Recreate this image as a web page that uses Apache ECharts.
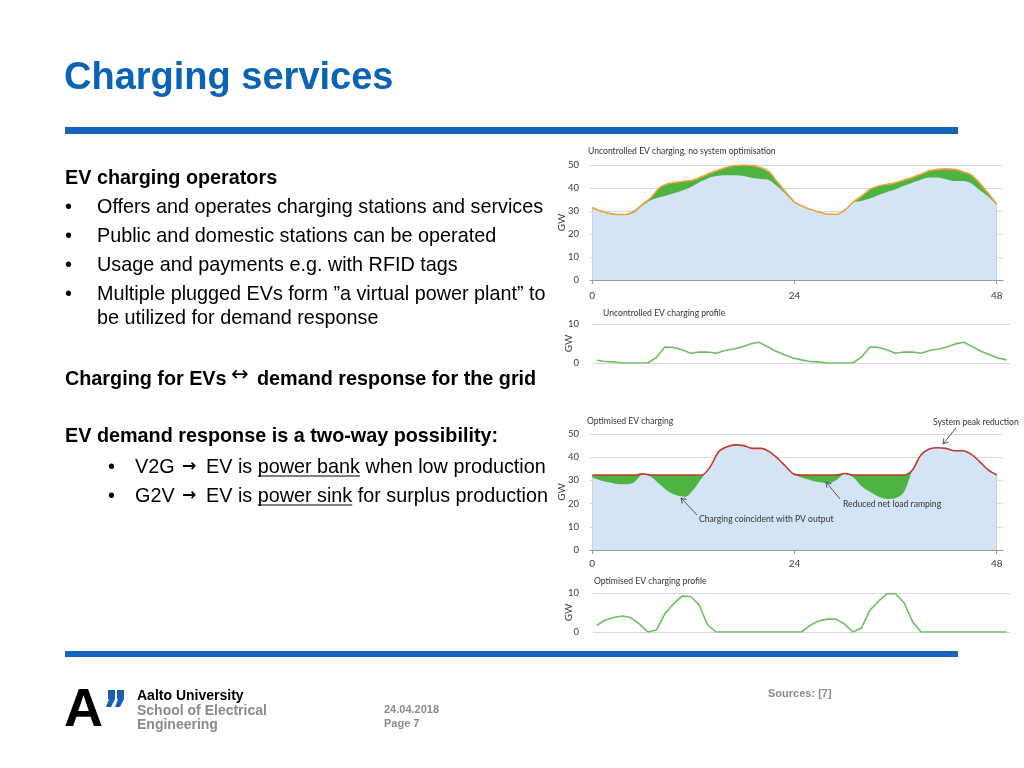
<!DOCTYPE html>
<html><head><meta charset="utf-8">
<script src="https://cdn.jsdelivr.net/npm/echarts@6/dist/echarts.min.js"></script>
<style>html,body{margin:0;padding:0;background:#fff}#c{width:1024px;height:768px}</style>
</head><body><div id="c"></div>
<script>
// ---------------- data (GW, hourly 0..48) ----------------
const hours = [0,1,2,3,4,5,6,7,8,9,10,11,12,13,14,15,16,17,18,19,20,21,22,23,24,25,26,27,28,29,30,31,32,33,34,35,36,37,38,39,40,41,42,43,44,45,46,47,48];
const xTicks = [0, 24, 48];

// Uncontrolled charging: base load (blue) and total load incl. EVs (orange line)
const baseUncontrolled = [31.2,29.8,28.8,28.3,28.3,29.5,32.5,34.8,36,37,38,39.3,41,43,44.6,45.3,45.5,45.5,45.2,44.3,43.9,43.4,40.6,37.3,33.6,31.8,30.5,29.4,28.6,28.6,30.4,33.8,34.4,35.5,37,38.3,39.5,41,42.3,43.6,44.6,44.6,43.8,43,43,42,39,36.3,32.7];
const totalUncontrolled = [31.5,30,29,28.5,28.5,30,33,36,40.2,41.8,42.5,43,43.5,45,46.5,47.8,49,49.8,50,49.8,48.8,47,42.5,38,34,32,30.5,29.5,28.6,28.6,30.5,34,36.6,39.5,40.9,41.6,42.3,43.5,44.6,46,47.5,48.1,48.3,48.1,47.1,45.7,42,37.7,33];
const evUncontrolled = [0.7,0.4,0.3,0,0,0,0,1.4,4.1,4,3.4,2.5,2.8,2.8,2.5,3.2,3.6,4.1,4.9,5.3,4.2,3.0,2.1,1.3,0.8,0.4,0.3,0,0,0,0,1.5,4.1,4.0,3.4,2.5,2.8,2.8,2.5,3.2,3.6,4.1,4.9,5.3,4.2,3.0,2.1,1.3,0.8];

// Optimised charging: net base load (blue) and total load incl. EVs (red line)
const baseOptimised = [31.2,30,29.2,28.4,28.3,29.3,32.6,31.5,28.3,25.3,23.6,23,26,31,35.9,42.4,44.5,45.3,45,43.8,43.8,42.4,39.5,35.9,32.4,31,30,29.2,28.7,30.2,32.9,31.3,27.4,25,23,22,22.3,25,34.5,41,43.5,44.1,43.8,42.8,42.8,41.2,38,34.5,32.3];
const totalOptimised = [32.3,32.3,32.3,32.3,32.3,32.3,32.8,32.3,32.3,32.3,32.3,32.3,32.3,32.3,35.9,42.4,44.5,45.3,45,43.8,43.8,42.4,39.5,35.9,32.6,32.3,32.3,32.3,32.3,32.3,33,32.3,32.3,32.3,32.3,32.3,32.3,32.3,34.5,41,43.5,44.1,43.8,42.8,42.8,41.2,38,34.5,32.3];
const evOptimised = [1.7,3.0,3.7,4.1,3.7,2.1,0,0.5,4.7,7.2,9.2,9.1,7.0,1.8,0,0,0,0,0,0,0,0,0,0,0,1.7,2.8,3.3,3.3,2.1,0,1.0,5.6,7.9,9.8,9.8,7.5,2.6,0,0,0,0,0,0,0,0,0,0,0];

// ---------------- styles ----------------
const SF = '"Liberation Sans", Arial, Helvetica, sans-serif';
const CF = 'Lato, "Open Sans", sans-serif';
const BLUE = '#0b63b6';
const C_BASE = '#d5e3f6';
const C_GREEN = '#4db441';
const C_ORANGE = '#f2a23a';
const C_RED = '#c4372c';
const C_PROF = '#6cc062';
const C_GRID = '#d9d9d9';
const C_AX = '#3a3a3a';
const BS = 19.8;

const pairs = (ys) => hours.map((h, i) => [h, ys[i]]);

const mctx = document.createElement('canvas').getContext('2d');
function tw(s, size, weight) { mctx.font = (weight || 'normal') + ' ' + size + 'px ' + SF; return mctx.measureText(s).width; }

function txt(x, y, text, size, o) {
  o = o || {};
  return { type: 'text', x: x, y: y, silent: true, z: 10,
    style: { text: text, fontSize: size, fontFamily: o.ff || SF, fontWeight: o.w || 'normal',
      fill: o.c || '#000', align: o.a || 'left', verticalAlign: 'middle' } };
}
function arrow(x1, y1, x2, y2) {
  const dx = x2 - x1, dy = y2 - y1, L = Math.sqrt(dx * dx + dy * dy);
  const ux = dx / L, uy = dy / L, hl = 5, hw = 3;
  const bx = x2 - ux * hl, by = y2 - uy * hl;
  return [
    { type: 'line', silent: true, z: 10, shape: { x1: x1, y1: y1, x2: x2, y2: y2 }, style: { stroke: '#555', lineWidth: 1 } },
    { type: 'polyline', silent: true, z: 10, shape: { points: [[bx - uy * hw, by + ux * hw], [x2, y2], [bx + uy * hw, by - ux * hw]] }, style: { stroke: '#555', lineWidth: 1, fill: null } }
  ];
}

// ---------------- slide graphics ----------------
const g = [];
g.push(txt(64, 79, 'Charging services', 38, { w: 'bold', c: BLUE }));
g.push({ type: 'rect', silent: true, shape: { x: 65, y: 127, width: 893, height: 7 }, style: { fill: '#1565bb' } });
g.push({ type: 'rect', silent: true, shape: { x: 65, y: 651, width: 893, height: 6 }, style: { fill: '#1565bb' } });

g.push(txt(65, 179, 'EV charging operators', BS, { w: 'bold' }));
const bul = [['Offers and operates charging stations and services', 208], ['Public and domestic stations can be operated', 237], ['Usage and payments e.g. with RFID tags', 266], ['Multiple plugged EVs form \u201da virtual power plant\u201d to', 295]];
bul.forEach(b => { g.push(txt(65, b[1], '\u2022', BS)); g.push(txt(97, b[1], b[0], BS)); });
g.push(txt(97, 319, 'be utilized for demand response', BS));

g.push(txt(65, 380, 'Charging for EVs', BS, { w: 'bold' }));
g.push(txt(231, 376, '\u2194', 21, { ff: '"DejaVu Sans", sans-serif' }));
g.push(txt(257, 380, 'demand response for the grid', BS, { w: 'bold' }));

g.push(txt(65, 437, 'EV demand response is a two-way possibility:', BS, { w: 'bold' }));
const sub = [['V2G', 'EV is ', 'power bank', ' when low production', 468], ['G2V', 'EV is ', 'power sink', ' for surplus production', 497]];
sub.forEach(s => {
  const y = s[4];
  g.push(txt(108, y, '\u2022', BS));
  g.push(txt(135, y, s[0], BS));
  g.push(txt(182, y - 1, '\u2192', 17, { w: 'bold', ff: '"DejaVu Sans", sans-serif' }));
  g.push(txt(206, y, s[1] + s[2] + s[3], BS));
  const x0 = 206 + tw(s[1], BS), x1 = x0 + tw(s[2], BS);
  g.push({ type: 'line', silent: true, shape: { x1: x0, y1: y + 8, x2: x1, y2: y + 8 }, style: { stroke: '#000', lineWidth: 1 } });
});

// chart titles and annotations
const TS = 8.6;
g.push(txt(588, 151, 'Uncontrolled EV charging, no system optimisation', TS, { ff: CF, c: '#333' }));
g.push(txt(603, 313, 'Uncontrolled EV charging profile', TS, { ff: CF, c: '#333' }));
g.push(txt(587, 421, 'Optimised EV charging', TS, { ff: CF, c: '#333' }));
g.push(txt(594, 581, 'Optimised EV charging profile', TS, { ff: CF, c: '#333' }));
g.push(txt(933, 422, 'System peak reduction', TS, { ff: CF, c: '#333' }));
g.push(txt(843, 504, 'Reduced net load ramping', TS, { ff: CF, c: '#333' }));
g.push(txt(699, 519, 'Charging coincident with PV output', TS, { ff: CF, c: '#333' }));
arrow(956, 428, 943, 444).forEach(e => g.push(e));
arrow(840, 499, 826, 482).forEach(e => g.push(e));
arrow(697, 515, 681, 498).forEach(e => g.push(e));

// footer
g.push(txt(64, 711, 'A', 54, { w: 'bold' }));
g.push({ type: 'polygon', silent: true, shape: { points: [[108, 690], [115, 690], [115, 699], [111, 707], [106, 707], [109, 699], [108, 699]] }, style: { fill: '#1a5fb4' } });
g.push({ type: 'polygon', silent: true, shape: { points: [[117, 690], [124, 690], [124, 699], [120, 707], [115, 707], [118, 699], [117, 699]] }, style: { fill: '#1a5fb4' } });
g.push(txt(137, 696, 'Aalto University', 14, { w: 'bold' }));
g.push(txt(137, 711, 'School of Electrical', 14, { w: 'bold', c: '#8a8a8a' }));
g.push(txt(137, 725, 'Engineering', 14, { w: 'bold', c: '#8a8a8a' }));
g.push(txt(384, 710, '24.04.2018', 11, { w: 'bold', c: '#8c8c8c' }));
g.push(txt(384, 724, 'Page 7', 11, { w: 'bold', c: '#8c8c8c' }));
g.push(txt(768, 694, 'Sources: [7]', 11, { w: 'bold', c: '#8c8c8c' }));

// ---------------- axes ----------------
const grids = [
  { left: 590, top: 165, width: 413, height: 115 },
  { left: 593, top: 324, width: 417, height: 39 },
  { left: 590, top: 434, width: 413, height: 116 },
  { left: 593, top: 593, width: 417, height: 39 }
];
function mainX(i, m) {
  return { type: 'value', gridIndex: i, min: -0.27, max: 48.75,
    axisLine: { show: true, lineStyle: { color: '#999', width: 1 } },
    axisTick: { show: true, customValues: xTicks, length: 4, lineStyle: { color: '#999' } },
    axisLabel: { customValues: xTicks, fontSize: 10, color: C_AX, fontFamily: CF, margin: m },
    splitLine: { show: false } };
}
function profX(i) { return { type: 'value', gridIndex: i, min: -0.42, max: 48.4, show: false }; }
function yAx(i, max, interval, gap, lm) {
  return { type: 'value', gridIndex: i, min: 0, max: max, interval: interval,
    name: 'GW', nameLocation: 'middle', nameRotate: 90, nameGap: gap, nameMoveOverlap: false,
    nameTextStyle: { fontSize: 10, color: C_AX, fontFamily: CF },
    axisLine: { show: false }, axisTick: { show: false },
    axisLabel: { fontSize: 9.5, color: C_AX, fontFamily: CF, margin: lm },
    splitLine: { show: true, lineStyle: { color: C_GRID, width: 1 } } };
}

function areaS(i, ys, color) {
  return { type: 'line', xAxisIndex: i, yAxisIndex: i, data: pairs(ys), smooth: 0.3, showSymbol: false, silent: true,
    lineStyle: { width: 0 }, areaStyle: { color: color, opacity: 1 } };
}
function lineS(i, ys, color, w, smooth) {
  return { type: 'line', xAxisIndex: i, yAxisIndex: i, data: pairs(ys), smooth: smooth, showSymbol: false, silent: true,
    lineStyle: { width: w, color: color } };
}

const option = {
  animation: false,
  backgroundColor: '#fff',
  grid: grids,
  xAxis: [mainX(0, 11), profX(1), mainX(2, 9), profX(3)],
  yAxis: [yAx(0, 50, 10, 23, 11), yAx(1, 10, 10, 19, 14), yAx(2, 50, 10, 23, 11), yAx(3, 10, 10, 19, 14)],
  series: [
    areaS(0, totalUncontrolled, C_GREEN),
    areaS(0, baseUncontrolled, C_BASE),
    lineS(0, totalUncontrolled, C_ORANGE, 1.6, 0.3),
    lineS(1, evUncontrolled, C_PROF, 1.6, false),
    areaS(2, totalOptimised, C_GREEN),
    areaS(2, baseOptimised, C_BASE),
    lineS(2, totalOptimised, C_RED, 1.6, 0.3),
    lineS(3, evOptimised, C_PROF, 1.6, false)
  ],
  graphic: g
};
const chart = echarts.init(document.getElementById('c'), null, { renderer: 'canvas', width: 1024, height: 768 });
chart.setOption(option);
</script>
</body></html>
